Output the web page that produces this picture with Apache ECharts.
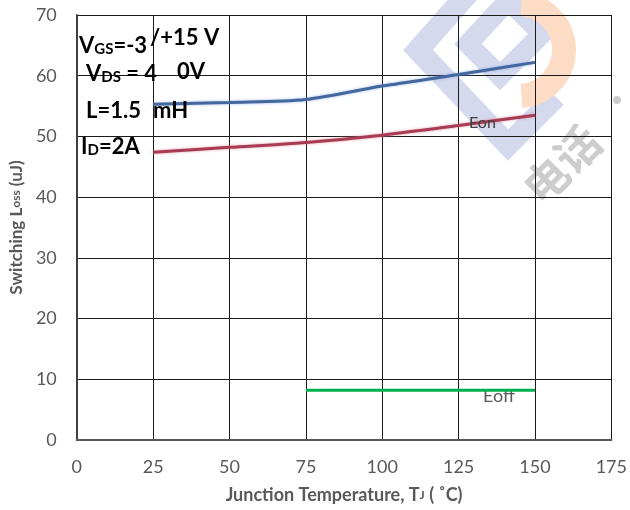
<!DOCTYPE html>
<html>
<head>
<meta charset="utf-8">
<script src="https://cdn.jsdelivr.net/npm/echarts@6/dist/echarts.min.js"></script>
<style>html,body{margin:0;padding:0;background:#fff}#c{width:630px;height:510px}</style>
</head>
<body>
<div id="c"></div>
<script>
var xTemps = [25, 50, 75, 100, 125, 150];
var totalLoss = [55.3, 55.6, 56.1, 58.3, 60.2, 62.2];
var eonLoss = [47.4, 48.2, 49.0, 50.2, 51.8, 53.5];
var eoffTemps = [75, 150];
var eoffLoss = [8.2, 8.2];

function pairs(xs, ys){ return xs.map(function(x,i){ return [x, ys[i]]; }); }

var chart = echarts.init(document.getElementById('c'));
var FONT = 'Lato';
function rt(x, y, text){
  return {type:'text', left:x, top:y, z:50, style:{
    text:text, fontFamily:FONT, fontWeight:'bold', fontSize:22, fill:'#000',
    rich:{ s:{fontFamily:FONT, fontWeight:'bold', fontSize:15, fill:'#000', verticalAlign:'bottom'} }
  }};
}
chart.setOption({
  animation:false,
  grid:{left:75, right:18, top:15, bottom:70},
  xAxis:{
    type:'value', min:0, max:175, interval:25,
    axisLine:{show:true, lineStyle:{color:'#595959', width:2}},
    axisTick:{show:false},
    axisLabel:{color:'#595959', fontFamily:FONT, fontSize:18, margin:18},
    splitLine:{show:true, lineStyle:{color:'#1a1a1a', width:1}},
    name:'Junction Temperature, T{s|J} ( ˚C)',
    nameLocation:'middle', nameGap:46,
    nameTextStyle:{color:'#595959', fontFamily:FONT, fontWeight:'bold', fontSize:18,
      rich:{s:{color:'#595959', fontFamily:FONT, fontWeight:'bold', fontSize:12}}}
  },
  yAxis:{
    type:'value', min:0, max:70, interval:10,
    axisLine:{show:true, lineStyle:{color:'#404040', width:2}},
    axisTick:{show:false},
    axisLabel:{color:'#595959', fontFamily:FONT, fontSize:18, margin:20},
    splitLine:{show:true, lineStyle:{color:'#1a1a1a', width:1}},
    name:'Switching L{s|oss} (uJ)',
    nameLocation:'middle', nameGap:48,
    nameTextStyle:{color:'#595959', fontFamily:FONT, fontWeight:'bold', fontSize:17,
      rich:{s:{color:'#595959', fontFamily:FONT, fontWeight:'bold', fontSize:12}}}
  },
  graphic:[
    {type:'polyline', z:-10, shape:{points:[[478,-18],[418,50],[508,145],[556,97]]},
      style:{stroke:'#d5d9ee', lineWidth:22, fill:null, lineJoin:'miter'}},
    {type:'polyline', z:-10, shape:{points:[[525,-18],[468,44],[500,76],[542,34],[508,0]]},
      style:{stroke:'#d5d9ee', lineWidth:20, fill:null, lineJoin:'miter'}},
    {type:'arc', z:-10, shape:{cx:518, cy:50, r:46, startAngle:-Math.PI/2.1, endAngle:Math.PI/2.1},
      style:{stroke:'#fddcc6', lineWidth:24, fill:null}},
    {type:'text', z:-10, left:515, top:118, rotation:Math.PI/4, originX:560, originY:150,
      style:{text:'电话', fontFamily:'Noto Sans CJK SC', fontWeight:'bold', fontSize:44, fill:'#cdcdcd'}},
    {type:'circle', z:-10, shape:{cx:617, cy:100, r:4}, style:{fill:'#cdcdcd'}},
    rt(79, 35, 'V{s|GS}=-3'),
    rt(150, 27, '/+15 V'),
    rt(86, 63, 'V{s|DS} = 4'),
    rt(177, 61, '0V'),
    rt(86, 100, 'L=1.5'),
    rt(153, 100, 'mH'),
    rt(81, 136, 'I{s|D}=2A'),
    {type:'text', left:469, top:115, z:50, style:{text:'Eon', fontFamily:FONT, fontSize:16, fill:'#404040'}},
    {type:'text', left:483, top:387, z:5, style:{text:'Eoff', fontFamily:FONT, fontSize:18, fill:'#595959'}}
  ],
  series:[
    {type:'line', data:pairs(xTemps,totalLoss), smooth:0.3, symbol:'none', z:10,
      lineStyle:{color:'#44679e', width:3, shadowColor:'rgba(120,160,220,0.7)', shadowBlur:3}},
    {type:'line', data:pairs(xTemps,eonLoss), smooth:0.3, symbol:'none', z:10,
      lineStyle:{color:'#a83c55', width:3, shadowColor:'rgba(220,120,140,0.7)', shadowBlur:3}},
    {type:'line', data:pairs(eoffTemps,eoffLoss), symbol:'none', z:10,
      lineStyle:{color:'#00b050', width:3}}
  ]
});
</script>
</body>
</html>
